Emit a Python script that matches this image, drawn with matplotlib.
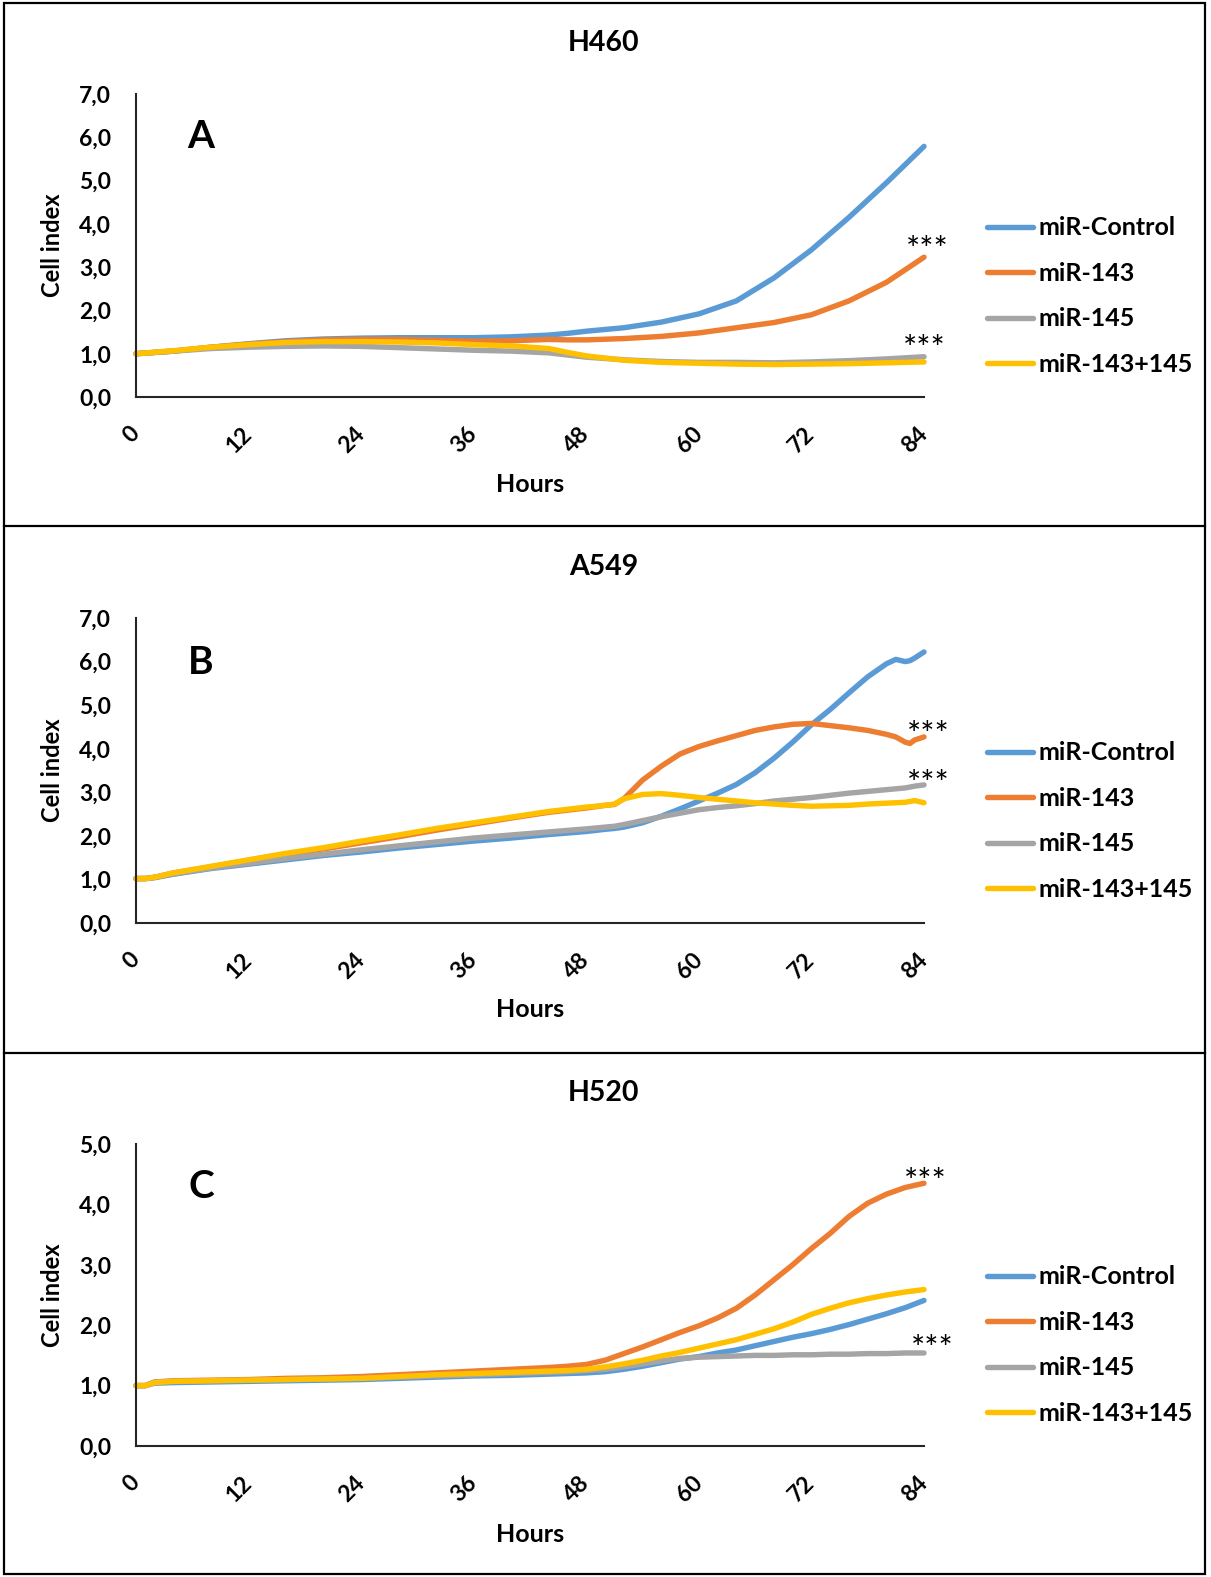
import matplotlib
matplotlib.use('Agg')
import matplotlib.pyplot as plt
from matplotlib.patches import Rectangle
from matplotlib.lines import Line2D

plt.rcParams['font.family'] = ['Lato', 'DejaVu Sans']

series_names = ['miR-Control', 'miR-143', 'miR-145', 'miR-143+145']
series_colors = ['#5B9BD5', '#ED7D31', '#A5A5A5', '#FFC000']
hour_ticks = [0, 12, 24, 36, 48, 60, 72, 84]

# panel A - H460
hours_a = [0, 4, 8, 12, 16, 20, 24, 28, 32, 36, 40, 44, 46, 48, 52, 56, 60, 64, 68, 72, 76, 80, 84]
control_a = [1.0, 1.06, 1.15, 1.23, 1.3, 1.34, 1.36, 1.37, 1.37, 1.37, 1.39, 1.43, 1.47, 1.52, 1.6, 1.73,
             1.92, 2.22, 2.75, 3.4, 4.15, 4.95, 5.79]
mir143_a = [1.0, 1.06, 1.15, 1.22, 1.28, 1.32, 1.33, 1.33, 1.31, 1.29, 1.3, 1.33, 1.32, 1.32, 1.35, 1.4,
            1.48, 1.6, 1.72, 1.9, 2.22, 2.65, 3.23]
mir145_a = [1.0, 1.06, 1.12, 1.15, 1.17, 1.18, 1.17, 1.14, 1.11, 1.08, 1.06, 1.02, 0.97, 0.92, 0.86, 0.82,
            0.8, 0.8, 0.79, 0.81, 0.84, 0.88, 0.93]
combo_a = [1.0, 1.07, 1.15, 1.21, 1.26, 1.28, 1.28, 1.27, 1.25, 1.21, 1.18, 1.12, 1.03, 0.95, 0.85, 0.8,
           0.78, 0.76, 0.75, 0.76, 0.77, 0.79, 0.81]

# panel B - A549
hours_b = [0, 1, 2, 4, 8, 12, 16, 20, 24, 28, 32, 36, 40, 44, 48, 50, 51, 52, 54, 56, 58, 60, 62, 64, 66,
           68, 70, 72, 74, 76, 78, 80, 81, 82, 82.5, 83, 84]
control_b = [1.02, 1.02, 1.04, 1.12, 1.25, 1.35, 1.45, 1.55, 1.63, 1.72, 1.8, 1.88, 1.95, 2.03, 2.1, 2.15,
             2.17, 2.2, 2.3, 2.45, 2.62, 2.8, 2.98, 3.18, 3.45, 3.78, 4.15, 4.55, 4.9, 5.28, 5.65, 5.95,
             6.05, 6.0, 6.02, 6.08, 6.22]
mir143_b = [1.02, 1.02, 1.05, 1.15, 1.29, 1.44, 1.58, 1.7, 1.84, 1.98, 2.13, 2.27, 2.41, 2.54, 2.64, 2.7,
            2.72, 2.85, 3.28, 3.6, 3.88, 4.05, 4.18, 4.3, 4.42, 4.5, 4.56, 4.58, 4.53, 4.48, 4.42, 4.33,
            4.27, 4.15, 4.12, 4.2, 4.27]
mir145_b = [1.02, 1.02, 1.05, 1.13, 1.26, 1.37, 1.48, 1.58, 1.68, 1.77, 1.86, 1.95, 2.02, 2.09, 2.16, 2.2,
            2.22, 2.26, 2.35, 2.44, 2.52, 2.6, 2.65, 2.69, 2.74, 2.8, 2.84, 2.88, 2.93, 2.98, 3.02, 3.06,
            3.08, 3.1, 3.12, 3.14, 3.17]
combo_b = [1.02, 1.02, 1.05, 1.15, 1.3, 1.45, 1.6, 1.73, 1.88, 2.02, 2.17, 2.3, 2.43, 2.56, 2.66, 2.7,
           2.73, 2.85, 2.95, 2.97, 2.93, 2.88, 2.84, 2.8, 2.76, 2.73, 2.7, 2.68, 2.69, 2.7, 2.73, 2.75,
           2.76, 2.77, 2.79, 2.81, 2.76]

# panel C - H520
hours_c = [0, 1, 2, 4, 8, 12, 16, 20, 24, 28, 32, 36, 40, 44, 46, 48, 50, 52, 54, 56, 58, 60, 62, 64, 66,
           68, 70, 72, 74, 76, 78, 80, 82, 84]
control_c = [1.0, 1.0, 1.04, 1.05, 1.06, 1.07, 1.08, 1.09, 1.1, 1.12, 1.14, 1.16, 1.17, 1.19, 1.2, 1.21,
             1.23, 1.27, 1.32, 1.38, 1.44, 1.48, 1.54, 1.59, 1.66, 1.73, 1.8, 1.86, 1.93, 2.01, 2.1, 2.19,
             2.29, 2.41]
mir143_c = [1.0, 1.0, 1.06, 1.08, 1.09, 1.1, 1.12, 1.13, 1.15, 1.18, 1.21, 1.24, 1.27, 1.3, 1.32, 1.35,
            1.42, 1.53, 1.64, 1.76, 1.88, 1.99, 2.12, 2.28, 2.5, 2.75, 3.0, 3.27, 3.52, 3.8, 4.02, 4.17,
            4.28, 4.35]
mir145_c = [1.0, 1.0, 1.06, 1.07, 1.08, 1.09, 1.1, 1.11, 1.12, 1.14, 1.16, 1.18, 1.2, 1.22, 1.23, 1.25,
            1.27, 1.31, 1.36, 1.41, 1.45, 1.47, 1.48, 1.49, 1.5, 1.5, 1.51, 1.51, 1.52, 1.52, 1.53, 1.53,
            1.54, 1.54]
combo_c = [1.0, 1.0, 1.05, 1.07, 1.08, 1.09, 1.1, 1.11, 1.12, 1.15, 1.18, 1.2, 1.22, 1.24, 1.25, 1.27,
           1.31, 1.36, 1.42, 1.49, 1.55, 1.62, 1.69, 1.76, 1.85, 1.94, 2.05, 2.18, 2.28, 2.37, 2.44, 2.5,
           2.55, 2.59]

# significance marks (hour, cell index)
stars_a = [(84.3, 3.63), (84.0, 1.34)]
stars_b = [(84.5, 4.54), (84.5, 3.42)]
stars_c = [(84.1, 4.54), (84.9, 1.77)]

W, H = 1211, 1577
fig = plt.figure(figsize=(W / 100, H / 100), dpi=100)


def fx(px):
    return px / W


def fy(py):
    return 1 - py / H


panels = [
    dict(title='H460', letter='A', hours=hours_a, vals=[control_a, mir143_a, mir145_a, combo_a], ymax=7,
         stars=stars_a, top=94, bottom=397, title_y=43, letter_y=137, hours_y=484, legend_y=296),
    dict(title='A549', letter='B', hours=hours_b, vals=[control_b, mir143_b, mir145_b, combo_b], ymax=7,
         stars=stars_b, top=618, bottom=923, title_y=567, letter_y=662, hours_y=1009, legend_y=821),
    dict(title='H520', letter='C', hours=hours_c, vals=[control_c, mir143_c, mir145_c, combo_c], ymax=5,
         stars=stars_c, top=1144, bottom=1446, title_y=1093, letter_y=1186, hours_y=1534, legend_y=1345),
]

for p in panels:
    ax = fig.add_axes([fx(136), fy(p['bottom']), fx(924) - fx(136), (p['bottom'] - p['top']) / H])
    for name, color, v in zip(series_names, series_colors, p['vals']):
        ax.plot(p['hours'], v, color=color, lw=3.9, label=name, solid_capstyle='round',
                solid_joinstyle='round', clip_on=False)
    ax.set_xlim(0, 84)
    ax.set_ylim(0, p['ymax'])
    ax.set_xticks(hour_ticks)
    ax.set_xticklabels([str(h) for h in hour_ticks], rotation=45, ha='right', va='center',
                       rotation_mode='anchor', fontsize=16.5, fontweight='bold')
    yt = list(range(0, p['ymax'] + 1))
    ax.set_yticks(yt)
    ax.set_yticklabels([f'{v:.1f}'.replace('.', ',') for v in yt], fontsize=16.5, fontweight='bold')
    ax.tick_params(axis='x', length=0, pad=24)
    ax.tick_params(axis='y', length=0, pad=18)
    for s in ['top', 'right']:
        ax.spines[s].set_visible(False)
    for s in ['left', 'bottom']:
        ax.spines[s].set_color('#262626')
        ax.spines[s].set_linewidth(1.5)

    for h, v in p['stars']:
        ax.annotate('***', xy=(h, v), xytext=(0, -8), textcoords='offset points', ha='center',
                    va='center', fontsize=24, annotation_clip=False)

    ax.legend(loc='center left', bbox_to_anchor=(fx(987), fy(p['legend_y'])), bbox_transform=fig.transFigure,
              frameon=False, prop={'size': 18, 'weight': 'bold'}, handlelength=1.84, handletextpad=0.2,
              labelspacing=0.9, borderpad=0, borderaxespad=0)

    fig.text(fx(604), fy(p['title_y']), p['title'], ha='center', va='center', fontsize=20.5, fontweight='bold')
    fig.text(fx(201), fy(p['letter_y']), p['letter'], ha='center', va='center', fontsize=28, fontweight='bold')
    fig.text(fx(530), fy(p['hours_y']), 'Hours', ha='center', va='center', fontsize=18, fontweight='bold')
    fig.text(fx(53), fy((p['top'] + p['bottom']) / 2), 'Cell index', rotation=90, ha='center', va='center',
             fontsize=17, fontweight='bold')

# panel frames
fig.add_artist(Rectangle((fx(4), fy(1574)), fx(1205) - fx(4), fy(3) - fy(1574), fill=False,
                         edgecolor='black', lw=1.6, transform=fig.transFigure))
for yline in [526, 1053]:
    fig.add_artist(Line2D([fx(4), fx(1205)], [fy(yline), fy(yline)], color='black', lw=1.6,
                          transform=fig.transFigure))

fig.savefig('out.png', dpi=100)
